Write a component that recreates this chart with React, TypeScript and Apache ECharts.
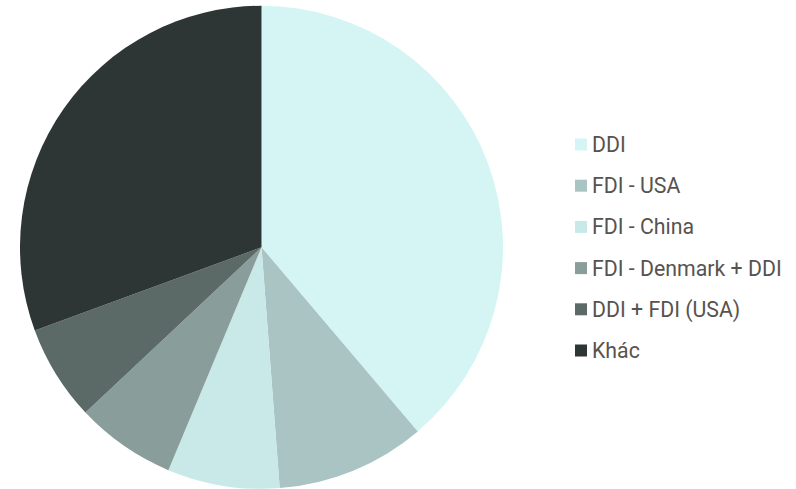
import React, { useEffect, useRef } from "react";
import * as echarts from "echarts";

const categories = ["DDI", "FDI - USA", "FDI - China", "FDI - Denmark + DDI", "DDI + FDI (USA)", "Khác"];
const values = [38.8, 10.0, 7.5, 6.7, 6.4, 30.6];
const colors = ["#d5f5f4", "#aac4c4", "#c9e8e8", "#899d9b", "#5b6967", "#2e3535"];

export default function App() {
  const ref = useRef<HTMLDivElement>(null);
  useEffect(() => {
    if (!ref.current) return;
    const chart = echarts.init(ref.current, undefined, { renderer: "svg" });
    chart.setOption({
      animation: false,
      color: colors,
      legend: {
        orient: "vertical",
        left: 575,
        top: 133.5,
        padding: 0,
        itemWidth: 12,
        itemHeight: 12,
        itemGap: 19.2,
        icon: "rect",
        textStyle: {
          fontFamily: "Roboto",
          fontSize: 21.3,
          lineHeight: 22,
          color: "#57534f",
        },
        data: categories,
      },
      series: [
        {
          type: "pie",
          center: [261.5, 247.3],
          radius: [0, 241.5],
          startAngle: 90,
          clockwise: true,
          label: { show: false },
          labelLine: { show: false },
          emphasis: { disabled: true },
          itemStyle: { borderWidth: 0 },
          data: categories.map((name, i) => ({ name, value: values[i] })),
        },
      ],
    });
    return () => chart.dispose();
  }, []);
  return <div ref={ref} style={{ width: 796, height: 489, position: "absolute", left: 0, top: 0 }} />;
}
